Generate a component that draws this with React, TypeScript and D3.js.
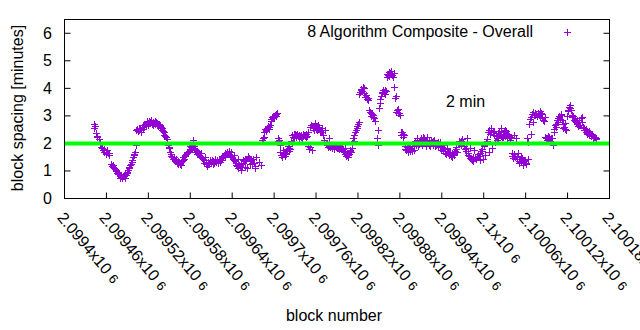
import React from "react";
import * as d3 from "d3";

const blocks = [
  2099442, 2099442, 2099445, 2099446, 2099450, 2099452, 2099455, 2099459, 2099462, 2099464,
  2099466, 2099469, 2099471, 2099473, 2099476, 2099478, 2099481, 2099483, 2099485, 2099488,
  2099490, 2099492, 2099495, 2099496, 2099499, 2099501, 2099502, 2099503, 2099507, 2099509,
  2099511, 2099514, 2099519, 2099523, 2099528, 2099533, 2099535, 2099540, 2099542, 2099545,
  2099546, 2099550, 2099551, 2099554, 2099559, 2099564, 2099566, 2099571, 2099576, 2099577,
  2099581, 2099584, 2099586, 2099591, 2099596, 2099601, 2099605, 2099610, 2099615, 2099620,
  2099624, 2099629, 2099634, 2099639, 2099643, 2099648, 2099653, 2099658, 2099661, 2099665,
  2099670, 2099674, 2099678, 2099681, 2099684, 2099689, 2099693, 2099698, 2099701, 2099704,
  2099706, 2099712, 2099715, 2099719, 2099722, 2099726, 2099730, 2099737, 2099744, 2099749,
  2099751, 2099754, 2099759, 2099763, 2099768, 2099773, 2099778, 2099782, 2099787, 2099792,
  2099797, 2099801, 2099804, 2099806, 2099810, 2099811, 2099813, 2099816, 2099818, 2099821,
  2099825, 2099828, 2099830, 2099834, 2099837, 2099841, 2099843, 2099847, 2099848, 2099849,
  2099851, 2099854, 2099856, 2099859, 2099863, 2099866, 2099868, 2099872, 2099873, 2099875,
  2099876, 2099879, 2099883, 2099886, 2099891, 2099895, 2099900, 2099905, 2099910, 2099914,
  2099919, 2099924, 2099929, 2099933, 2099938, 2099943, 2099948, 2099952, 2099957, 2099962,
  2099967, 2099971, 2099976, 2099981, 2099986, 2099991, 2099995, 2099999, 2100002, 2100007,
  2100012, 2100016, 2100019, 2100022, 2100025, 2100030, 2100034, 2100039, 2100044, 2100046,
  2100049, 2100053, 2100058, 2100061, 2100063, 2100068, 2100070, 2100072, 2100077, 2100082,
  2100087, 2100089, 2100091, 2100096, 2100099, 2100103, 2100106, 2100111, 2100115, 2100118,
  2100120, 2100122, 2100127, 2100132, 2100137, 2100141, 2100144, 2100149, 2100153, 2100158,
  2100161,
];

const spacing = [
  2.70, 2.55, 2.37, 2.28, 2.16, 1.88, 1.76, 1.69, 1.67, 1.64,
  1.27, 1.21, 1.09, 1.03, 0.97, 0.88, 0.81, 0.79, 0.81, 0.85,
  0.97, 1.09, 1.27, 1.39, 1.61, 1.69, 1.94, 2.48, 2.55, 2.48,
  2.60, 2.67, 2.75, 2.79, 2.75, 2.73, 2.70, 2.55, 2.42, 2.24,
  2.15, 1.82, 1.69, 1.51, 1.39, 1.33, 1.27, 1.45, 1.64, 1.69,
  1.88, 2.12, 1.82, 1.69, 1.64, 1.51, 1.27, 1.33, 1.37, 1.33,
  1.39, 1.51, 1.61, 1.69, 1.57, 1.45, 1.27, 1.15, 1.09, 1.27,
  1.45, 1.51, 1.33, 1.21, 2.18, 2.48, 2.60, 2.91, 3.03, 3.09,
  2.18, 1.76, 1.64, 1.76, 1.82, 2.30, 2.36, 2.27, 2.27, 2.42,
  1.88, 1.76, 2.73, 2.67, 2.55, 2.48, 2.18, 1.94, 1.90, 1.85,
  1.85, 1.82, 1.64, 1.51, 1.69, 1.82, 2.18, 2.42, 2.55, 2.79,
  3.94, 4.00, 3.69, 3.64, 3.15, 3.03, 2.91, 2.18, 1.94, 2.48,
  3.45, 3.82, 3.94, 3.94, 4.48, 4.55, 4.48, 4.06, 3.64, 3.15,
  3.21, 3.09, 2.42, 2.30, 1.88, 1.82, 1.76, 2.12, 2.18, 2.18,
  2.24, 2.12, 2.12, 2.00, 2.06, 1.94, 1.82, 1.69, 1.57, 1.69,
  1.94, 2.06, 2.18, 1.82, 1.76, 1.51, 1.39, 1.45, 1.57, 1.69,
  1.82, 2.06, 2.12, 2.46, 2.55, 2.48, 2.36, 2.24, 2.30, 2.18,
  1.64, 1.51, 1.39, 1.25, 1.45, 2.36, 2.79, 3.03, 3.11, 3.09,
  2.97, 2.18, 2.18, 2.18, 1.94, 2.60, 2.79, 3.03, 2.60, 2.48,
  3.21, 3.33, 2.97, 2.79, 2.67, 2.97, 2.55, 2.42, 2.36, 2.24,
  2.18,
];

// further blocks read from the denser parts of the cloud
const blocksB = [
  2099443, 2099447, 2099451, 2099453, 2099456, 2099457, 2099460, 2099461, 2099463,
  2099467, 2099468, 2099470, 2099472, 2099474, 2099475, 2099477, 2099479, 2099480, 2099482,
  2099484, 2099486, 2099487, 2099489, 2099491, 2099493, 2099494, 2099497, 2099498, 2099500,
  2099504, 2099505, 2099506, 2099508, 2099510, 2099512, 2099513, 2099515, 2099516, 2099517,
  2099518, 2099520, 2099521, 2099522, 2099524, 2099525, 2099526, 2099527, 2099529, 2099530,
  2099531, 2099532, 2099534, 2099536, 2099537, 2099538, 2099539, 2099541, 2099543, 2099544,
  2099547, 2099548, 2099549, 2099552, 2099553, 2099555, 2099556, 2099557, 2099558, 2099560,
  2099561, 2099562, 2099563, 2099565, 2099567, 2099568, 2099569, 2099570, 2099572, 2099573,
  2099574, 2099575, 2099578, 2099579, 2099580, 2099582,
  2099583, 2099585, 2099587, 2099588, 2099589, 2099590, 2099592, 2099593, 2099594, 2099595,
  2099597, 2099598, 2099599, 2099600, 2099602, 2099603, 2099604, 2099606, 2099607, 2099608,
  2099609, 2099611, 2099612, 2099613, 2099614, 2099616, 2099617, 2099618, 2099619, 2099621,
  2099622, 2099623, 2099625, 2099626, 2099627, 2099628, 2099630, 2099631, 2099632, 2099633,
  2099635, 2099636, 2099637, 2099638, 2099640, 2099641, 2099642, 2099644, 2099645, 2099646,
  2099647, 2099649, 2099650, 2099651, 2099652, 2099654, 2099655, 2099656, 2099657, 2099659,
  2099660, 2099662, 2099663, 2099664, 2099666, 2099667, 2099668, 2099669, 2099671, 2099672,
  2099673,
  2099683, 2099685, 2099686, 2099687, 2099688, 2099690, 2099691, 2099692, 2099694, 2099695,
  2099696, 2099697, 2099699, 2099700, 2099702, 2099703,
  2099705, 2099707, 2099708, 2099709, 2099710, 2099711, 2099713, 2099714, 2099716, 2099717,
  2099718, 2099720, 2099721, 2099723, 2099724, 2099725,
  2099727, 2099728, 2099729, 2099731, 2099732, 2099733, 2099734, 2099735, 2099736, 2099738,
  2099739, 2099740, 2099741, 2099742, 2099743, 2099745, 2099746, 2099747, 2099748, 2099750,
  2099752, 2099753, 2099755, 2099756, 2099757, 2099758, 2099760, 2099761, 2099762, 2099764,
  2099765, 2099766, 2099767, 2099769,
  2099770, 2099771, 2099772, 2099774, 2099775, 2099776, 2099777, 2099779, 2099780, 2099781,
  2099783, 2099784, 2099785, 2099786, 2099788, 2099789, 2099790, 2099791, 2099793, 2099794,
  2099795, 2099796, 2099798, 2099799, 2099800, 2099802, 2099803, 2099805, 2099807, 2099808,
  2099809,
  2099812, 2099814, 2099815, 2099817, 2099819, 2099820,
  2099822, 2099823, 2099824, 2099826, 2099827, 2099829, 2099831, 2099832, 2099833, 2099835,
  2099836, 2099838, 2099839, 2099840, 2099842, 2099844,
  2099850, 2099852, 2099853, 2099855, 2099857, 2099858, 2099860,
  2099861, 2099862, 2099864, 2099865, 2099867, 2099869, 2099870, 2099871, 2099874, 2099877,
  2099878, 2099880, 2099881, 2099882, 2099884, 2099885,
  2099887, 2099888, 2099889, 2099890, 2099892, 2099893, 2099894, 2099896, 2099897, 2099898,
  2099901, 2099902, 2099903, 2099904, 2099906, 2099907, 2099908, 2099909, 2099911, 2099912,
  2099913, 2099915, 2099916, 2099917, 2099918, 2099920, 2099921, 2099922, 2099923, 2099925,
  2099926, 2099927, 2099928, 2099930, 2099931, 2099932, 2099934, 2099935, 2099936, 2099937,
  2099939, 2099940, 2099941, 2099942, 2099944, 2099945, 2099946, 2099947, 2099949, 2099950,
  2099951, 2099953, 2099954, 2099955, 2099956, 2099958, 2099959, 2099960, 2099961, 2099963,
  2099964, 2099965, 2099966,
  2099968, 2099969, 2099970,
  2099972, 2099973, 2099974, 2099975, 2099977, 2099978, 2099979, 2099980, 2099982, 2099983,
  2099984, 2099985, 2099987, 2099988, 2099989, 2099990, 2099992, 2099993, 2099994, 2099996,
  2099997, 2099998, 2100000, 2100001, 2100003, 2100004, 2100005,
  2100006, 2100008, 2100009, 2100010, 2100011, 2100013, 2100014, 2100015, 2100017, 2100018,
  2100020, 2100021, 2100023, 2100024, 2100026, 2100027, 2100028, 2100029, 2100031, 2100032,
  2100033, 2100035, 2100036, 2100037, 2100038,
  2100040, 2100041, 2100042, 2100043, 2100045, 2100047, 2100048, 2100050, 2100051, 2100052,
  2100054, 2100055, 2100056, 2100057, 2100059, 2100060,
  2100062, 2100064,
  2100065, 2100066, 2100067, 2100069, 2100071, 2100073, 2100074, 2100075, 2100076, 2100078,
  2100079, 2100080, 2100081, 2100083, 2100084, 2100085, 2100086,
  2100088, 2100090, 2100092, 2100093, 2100094, 2100095, 2100097, 2100098,
  2100100, 2100101, 2100102, 2100104, 2100105, 2100107, 2100108, 2100109, 2100110, 2100112,
  2100113, 2100114,
  2100116, 2100117, 2100119, 2100121, 2100123, 2100124, 2100125, 2100126, 2100128, 2100129,
  2100130, 2100131, 2100133, 2100134, 2100135, 2100136, 2100138, 2100139, 2100140, 2100142,
  2100143, 2100145, 2100146, 2100147, 2100148, 2100150, 2100151, 2100152, 2100154, 2100155,
  2100156, 2100157, 2100159, 2100160,
];

const spacingB = [
  2.62, 2.25, 2.00, 1.84, 1.70, 1.80, 1.62, 1.75, 1.58,
  1.24, 1.18, 1.14, 1.06, 1.00, 0.93, 0.90, 0.84, 0.76, 0.74,
  0.83, 0.76, 0.88, 0.92, 1.02, 1.15, 1.20, 1.33, 1.50, 1.58,
  2.52, 2.44, 2.50, 2.56, 2.40, 2.66, 2.52, 2.72, 2.62, 2.70,
  2.82, 2.68, 2.80, 2.74, 2.84, 2.70, 2.78, 2.66, 2.80, 2.70,
  2.76, 2.68, 2.64, 2.62, 2.66, 2.58, 2.50, 2.46, 2.32, 2.28,
  2.06, 1.96, 1.88, 1.62, 1.56, 1.45, 1.50, 1.42, 1.35, 1.42,
  1.30, 1.36, 1.24, 1.30, 1.22, 1.36, 1.40, 1.50, 1.55, 1.58,
  1.62, 1.68, 1.74, 1.80, 1.92, 1.95,
  1.78, 1.90, 1.76, 1.70, 1.72, 1.62, 1.66, 1.58, 1.56, 1.50,
  1.46, 1.44, 1.38, 1.30, 1.24, 1.30, 1.18, 1.32, 1.26, 1.38,
  1.30, 1.40, 1.24, 1.36, 1.28, 1.42, 1.32, 1.38, 1.28, 1.44,
  1.34, 1.40, 1.46, 1.55, 1.50, 1.58, 1.64, 1.60, 1.70, 1.66,
  1.72, 1.62, 1.55, 1.58, 1.50, 1.44, 1.40, 1.35, 1.30, 1.22,
  1.18, 1.12, 1.20, 1.14, 1.05, 1.16, 1.30, 1.38, 1.36, 1.44,
  1.42, 1.50, 1.55, 1.48, 1.40, 1.36, 1.30, 1.26, 1.30, 1.18,
  1.12,
  2.12, 2.24, 2.40, 2.54, 2.44, 2.56, 2.62, 2.54, 2.66, 2.80,
  2.90, 2.96, 3.00, 2.95, 3.06, 2.98,
  2.10, 2.12, 1.94, 1.70, 1.58, 1.52, 1.62, 1.70, 1.56, 1.62,
  1.80, 1.90, 1.72, 1.80, 2.08, 2.00,
  2.24, 2.36, 2.20, 2.30, 2.24, 2.34, 2.28, 2.20, 2.32, 2.24,
  2.30, 2.20, 2.34, 2.26, 2.30, 2.22, 2.36, 2.28, 1.90, 1.80,
  2.60, 2.66, 2.56, 2.62, 2.50, 2.70, 2.54, 2.60, 2.48, 2.58,
  2.50, 2.46, 2.40, 2.42,
  2.30, 2.12, 2.04, 1.98, 2.00, 1.94, 1.88, 1.92, 1.86, 1.96,
  1.84, 1.92, 1.90, 1.80, 1.86, 1.94, 1.82, 1.88, 1.80, 1.86,
  1.92, 1.84, 1.80, 1.74, 1.70, 1.60, 1.56, 1.58, 1.62, 1.72,
  1.76,
  2.00, 2.10, 2.30, 2.48, 2.62, 2.72,
  3.80, 3.88, 3.98, 3.90, 4.04, 3.84, 3.76, 3.70, 3.60, 3.56,
  3.20, 3.10, 3.00, 3.06, 2.96, 2.82,
  3.30, 3.60, 3.72, 3.86, 3.88, 3.80, 3.92,
  4.40, 4.52, 4.58, 4.44, 4.62, 4.50, 4.40, 4.55, 3.72, 3.26,
  3.10, 3.02, 2.40, 2.30, 2.22, 2.36,
  1.80, 1.92, 1.76, 1.88, 1.70, 1.84, 1.74, 1.80, 1.90, 1.72,
  2.04, 2.10, 1.96, 2.20, 1.90, 2.06, 1.98, 2.14, 1.96, 2.08,
  2.22, 2.00, 2.10, 1.92, 2.04, 2.00, 2.10, 1.96, 1.90, 2.02,
  2.06, 1.94, 2.08, 1.90, 2.00, 1.96, 1.92, 2.04, 1.98, 1.86,
  1.76, 1.86, 1.72, 1.80, 1.66, 1.74, 1.62, 1.78, 1.70, 1.58,
  1.66, 1.56, 1.64, 1.52, 1.60, 1.66, 1.74, 1.80, 1.86, 1.98,
  2.00, 2.10, 2.02,
  2.10, 2.16, 2.04,
  1.90, 1.78, 1.84, 1.72, 1.66, 1.58, 1.56, 1.48, 1.44, 1.40,
  1.50, 1.36, 1.46, 1.52, 1.42, 1.50, 1.62, 1.56, 1.66, 1.72,
  1.80, 1.74, 1.90, 1.94, 2.00, 2.16, 2.08,
  2.42, 2.50, 2.36, 2.56, 2.44, 2.40, 2.30, 2.46, 2.32, 2.26,
  2.38, 2.20, 2.36, 2.28, 2.24, 2.30, 2.22, 2.40, 2.28, 2.44,
  2.18, 2.34, 2.26, 2.20, 2.12,
  1.66, 1.56, 1.48, 1.60, 1.50, 1.42, 1.56, 1.36, 1.30, 1.44,
  1.32, 1.46, 1.22, 1.36, 1.40, 1.28,
  2.20, 2.06,
  2.70, 2.90, 2.96, 3.08, 3.14, 3.02, 3.12, 3.06, 2.98, 3.10,
  3.04, 3.16, 2.96, 3.08, 2.92, 2.86, 2.80,
  2.24, 2.14, 2.26, 2.12, 2.22, 2.08, 2.20, 2.06,
  2.40, 2.52, 2.68, 2.70, 2.84, 2.92, 2.98, 2.90, 3.06, 2.86,
  2.70, 2.56,
  2.74, 2.54, 3.00, 3.16, 3.40, 3.28, 3.20, 3.04, 3.00, 2.86,
  2.92, 2.80, 2.70, 2.84, 2.62, 2.76, 2.68, 2.94, 2.78, 2.60,
  2.50, 2.48, 2.40, 2.52, 2.36, 2.44, 2.30, 2.38, 2.28, 2.34,
  2.26, 2.20, 2.22, 2.16,
];

const xTicks = [
  2099400, 2099460, 2099520, 2099580, 2099640, 2099700, 2099760,
  2099820, 2099880, 2099940, 2100000, 2100060, 2100120, 2100180,
];
const xTickLabels = [
  "2.0994", "2.09946", "2.09952", "2.09958", "2.09964", "2.0997", "2.09976",
  "2.09982", "2.09988", "2.09994", "2.1", "2.10006", "2.10012", "2.10018",
];
const yTicks = [0, 1, 2, 3, 4, 5, 6];
const targetMinutes = 2;

const W = 640;
const H = 330;
const L = 64.5, R = 609.5, T = 19.5, B = 198.5;
const FONT = "'Liberation Sans', Arial, sans-serif";
const PURPLE = "#9400d3";
const GREEN = "#00ff00";

export default function App() {
  const x = d3.scaleLinear().domain([2099400, 2100180]).range([L, R]);
  const y = d3.scaleLinear().domain([0, 6.5]).range([B, T]);
  const allB = blocks.concat(blocksB);
  const allV = spacing.concat(spacingB);
  const plus = (px: number, py: number, s = 3) => {
    const cx = Math.round(px) + 0.5;
    const cy = Math.round(py) + 0.5;
    return `M${cx - s - 0.5},${cy}H${cx + s + 0.5}M${cx},${cy - s - 0.5}V${cy + s + 0.5}`;
  };
  const pathD = allB.map((b, i) => plus(x(b), y(allV[i]))).join("");

  return (
    <svg width={W} height={H} style={{ position: "absolute", left: 0, top: 0, background: "#fff" }} fontFamily={FONT}>
      <rect x={0} y={0} width={W} height={H} fill="#fff" />
      {yTicks.map((t) => (
        <g key={"y" + t}>
          <line x1={L} x2={L + 6} y1={y(t)} y2={y(t)} stroke="#000" />
          <line x1={R} x2={R - 6} y1={y(t)} y2={y(t)} stroke="#000" />
          <text x={52} y={y(t) + 5.5} textAnchor="end" fontSize={16} fill="#000">{t}</text>
        </g>
      ))}
      {xTicks.map((t, i) => (
        <g key={"x" + t}>
          <line x1={x(t)} x2={x(t)} y1={B} y2={B - 6} stroke="#000" />
          <text transform={`translate(${x(t) - 8},${218}) rotate(50)`} fontSize={16} fill="#000">
            {xTickLabels[i] + "x10"}
            <tspan dx={5} fontSize={13}>6</tspan>
          </text>
        </g>
      ))}
      <path d={pathD} stroke={PURPLE} strokeWidth={1} fill="none" shapeRendering="crispEdges" />
      <line x1={L} x2={R} y1={y(targetMinutes)} y2={y(targetMinutes)} stroke={GREEN} strokeWidth={4} />
      <rect x={L} y={T} width={R - L} height={B - T} fill="none" stroke="#000" strokeWidth={1} />
      <text x={533} y={37} textAnchor="end" fontSize={16} fill="#000">8 Algorithm Composite - Overall</text>
      <path d={plus(567, 32)} stroke={PURPLE} strokeWidth={1} shapeRendering="crispEdges" />
      <text x={446} y={107} fontSize={16} fill="#000">2 min</text>
      <text transform={`translate(23,108) rotate(-90)`} textAnchor="middle" fontSize={16} fill="#000">block spacing [minutes]</text>
      <text x={334} y={321} textAnchor="middle" fontSize={16} fill="#000">block number</text>
    </svg>
  );
}
